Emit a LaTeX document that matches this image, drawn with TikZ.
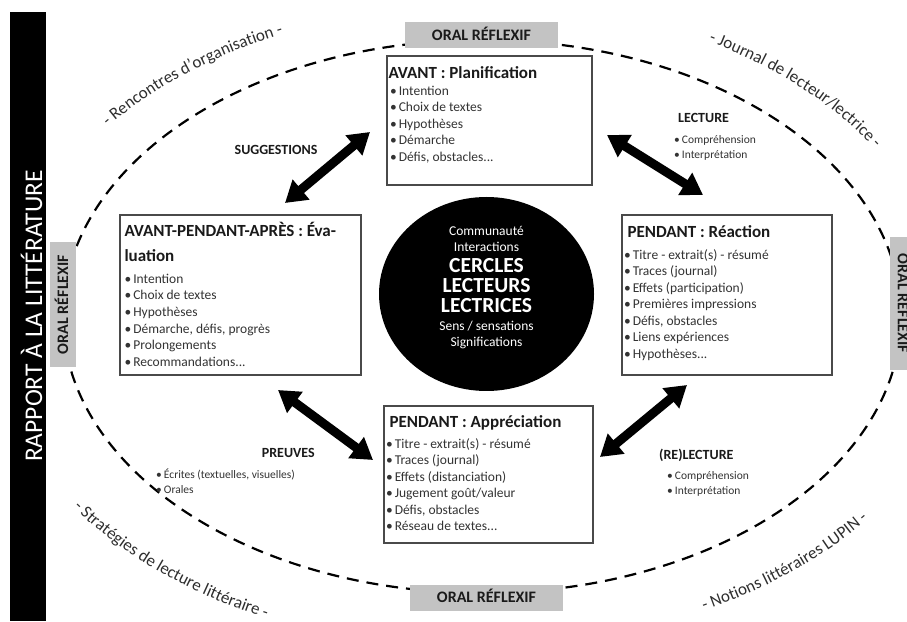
\documentclass[tikz,border=0pt]{standalone}
\usepackage{fontspec}
\setmainfont{Carlito}
\usetikzlibrary{arrows.meta,decorations.text,shapes.geometric}
\definecolor{oralgray}{HTML}{C3C3C3}
\definecolor{ink}{HTML}{1A1A1A}
\definecolor{itemgray}{HTML}{333333}
\definecolor{framegray}{HTML}{4A4A4A}
\definecolor{curvegray}{HTML}{2E2E2E}
\newcommand\tdots{...}
\begin{document}
\begin{tikzpicture}[x=1pt,y=1pt,
  oral/.style={fill=oralgray, inner sep=0pt, minimum height=26pt, text=ink,
    font=\fontsize{16}{16}\selectfont\bfseries, text height=10.3pt, text depth=0pt},
  stagebox/.style={draw=framegray, line width=1.3pt, fill=white, inner sep=0pt},
  ttl/.style={inner sep=0pt, anchor=base west, text=ink, font=\fontsize{17}{17}\selectfont\bfseries},
  itm/.style={inner sep=0pt, anchor=base west, text=itemgray, font=\fontsize{13.5}{13.5}\selectfont},
  lbl/.style={inner sep=0pt, text=ink, font=\fontsize{14}{14}\selectfont\bfseries},
  sitm/.style={inner sep=0pt, anchor=base west, text=itemgray, font=\fontsize{11.5}{11.5}\selectfont},
  ctr/.style={inner sep=0pt, anchor=base, text=white, font=\fontsize{13.5}{13.5}\selectfont},
  ctrbig/.style={inner sep=0pt, anchor=base, text=white, font=\fontsize{21.5}{21.5}\selectfont\bfseries},
  bigarrow/.style={line width=9pt, {Triangle[length=21pt,width=25pt]}-{Triangle[length=21pt,width=25pt]}},
  ring/.style={draw=black, line width=2.2pt, dash pattern=on 12pt off 8pt},
  curvetext/.style={decorate, decoration={text along path, text align=center, text={#1}}}
]
\useasboundingbox (0,0) rectangle (907,621);
\clip (0,0) rectangle (907,621);
\fill[white] (0,0) rectangle (907,621);

% left black bar
\node[fill=black, minimum width=36pt, minimum height=609pt, inner sep=0pt, anchor=south west] (bar) at (10,0) {};
\node[rotate=90, anchor=base, inner sep=0pt, text=white, font=\fontsize{25.5}{25.5}\selectfont] (rap) at (42,305) {RAPPORT À LA LITTÉRATURE};

% dashed ring
\draw[ring] (482,304.5) ellipse [x radius=419pt, y radius=276.5pt];

% curved texts
\path[curvetext={|\fontsize{17}{17}\selectfont\color{curvegray}|- Rencontres d’organisation -}]
  (479,304) ++(152:468 and 312) arc[start angle=152, end angle=107, x radius=468pt, y radius=312pt];
\path[curvetext={|\fontsize{17}{17}\selectfont\color{curvegray}|- Journal de lecteur/lectrice -}]
  (479,304) ++(68:468 and 316) arc[start angle=68, end angle=23, x radius=468pt, y radius=316pt];
\path[curvetext={|\fontsize{17}{17}\selectfont\color{curvegray}|- Stratégies de lecture littéraire -}]
  (479,304) ++(208:494 and 334) arc[start angle=208, end angle=250, x radius=494pt, y radius=334pt];
\path[curvetext={|\fontsize{17}{17}\selectfont\color{curvegray}|- Notions littéraires LUPIN -}]
  (479,304) ++(290:492 and 330) arc[start angle=290, end angle=331, x radius=492pt, y radius=330pt];

% ORAL REFLEXIF boxes
\node[oral, minimum width=153pt] (otop) at (481.5,585.5) {ORAL RÉFLEXIF};
\node[oral, minimum width=153pt] (obot) at (486.5,23.5) {ORAL RÉFLEXIF};
\node[oral, minimum width=125pt, rotate=90] (oleft) at (63,316.5) {ORAL RÉFLEXIF};
\node[oral, minimum width=133pt, rotate=-90] (oright) at (903,317.5) {ORAL RÉFLEXIF};

% stage boxes
\node[stagebox, minimum width=205pt, minimum height=129pt] (tb) at (489.5,500.5) {};
\node[stagebox, minimum width=241pt, minimum height=160pt] (lb) at (240.5,326) {};
\node[stagebox, minimum width=210pt, minimum height=160pt] (rb) at (727,326) {};
\node[stagebox, minimum width=209pt, minimum height=137pt] (bb) at (488.5,146.5) {};

% top box content
\node[ttl] (tbt) at ([shift={(2,-23)}]tb.north west) {AVANT : Planification};
\foreach \t [count=\i] in {Intention, Choix de textes, Hypothèses, Démarche, {Défis, obstacles\tdots}}
  \node[itm] (tbi\i) at ([shift={(3.5,{-40-16.5*(\i-1)})}]tb.north west) {•\hspace{2pt}\t};

% left box content
\node[ttl] (lbt1) at ([shift={(5,-22)}]lb.north west) {AVANT-PENDANT-APRÈS : Éva-};
\node[ttl] (lbt2) at ([shift={(5,-47)}]lb.north west) {luation};
\foreach \t [count=\i] in {Intention, Choix de textes, Hypothèses, {Démarche, défis, progrès}, Prolongements, Recommandations\tdots}
  \node[itm] (lbi\i) at ([shift={(5,{-69-16.6*(\i-1)})}]lb.north west) {•\hspace{2pt}\t};

% right box content
\node[ttl] (rbt) at ([shift={(6,-23)}]rb.north west) {PENDANT : Réaction};
\foreach \t [count=\i] in {Titre - extrait(s) - résumé, Traces (journal), Effets (participation), Premières impressions, {Défis, obstacles}, Liens expériences, Hypothèses\tdots}
  \node[itm] (rbi\i) at ([shift={(2.5,{-45-16.5*(\i-1)})}]rb.north west) {•\hspace{2pt}\t};

% bottom box content
\node[ttl] (bbt) at ([shift={(6,-22)}]bb.north west) {PENDANT : Appréciation};
\foreach \t [count=\i] in {Titre - extrait(s) - résumé, Traces (journal), Effets (distanciation), Jugement goût/valeur, {Défis, obstacles}, Réseau de textes\tdots}
  \node[itm] (bbi\i) at ([shift={(2.5,{-43-16.5*(\i-1)})}]bb.north west) {•\hspace{2pt}\t};

% central disc
\node[fill=black, ellipse, minimum width=215pt, minimum height=194pt, inner sep=0pt] (hub) at (486.5,327) {};
\node[ctr] (h1) at (486.5,385.5) {Communauté};
\node[ctr] (h2) at (486.5,369.5) {Interactions};
\node[ctrbig] (h3) at (486.5,348) {CERCLES};
\node[ctrbig] (h4) at (486.5,328) {LECTEURS};
\node[ctrbig] (h5) at (486.5,308) {LECTRICES};
\node[ctr] (h6) at (486.5,290.5) {Sens / sensations};
\node[ctr] (h7) at (486.5,274.5) {Significations};

% arrows
\coordinate (a1s) at (285,418); \coordinate (a1e) at (370,489);
\coordinate (a2s) at (607,486); \coordinate (a2e) at (703,426);
\coordinate (a3s) at (278,231); \coordinate (a3e) at (373,161);
\coordinate (a4s) at (600,164); \coordinate (a4e) at (687,236);
\draw[bigarrow] (a1s) -- (a1e);
\draw[bigarrow] (a2s) -- (a2e);
\draw[bigarrow] (a3s) -- (a3e);
\draw[bigarrow] (a4s) -- (a4e);

% arrow labels
\node[lbl, anchor=base] (sug) at (276,466.5) {SUGGESTIONS};
\node[lbl, anchor=base west] (lec) at (678,498.5) {LECTURE};
\node[sitm] (lec1) at (674,477.5) {•\hspace{2pt}Compréhension};
\node[sitm] (lec2) at (674,462.5) {•\hspace{2pt}Interprétation};
\node[lbl, anchor=base east] (pre) at (315,163.5) {PREUVES};
\node[sitm] (pre1) at (156,142.5) {•\hspace{2pt}Écrites (textuelles, visuelles)};
\node[sitm] (pre2) at (156,127.5) {•\hspace{2pt}Orales};
\node[lbl, anchor=base west] (rel) at (659,161.5) {(RE)LECTURE};
\node[sitm] (rel1) at (667,141.5) {•\hspace{2pt}Compréhension};
\node[sitm] (rel2) at (667,126.5) {•\hspace{2pt}Interprétation};
\end{tikzpicture}
\end{document}
